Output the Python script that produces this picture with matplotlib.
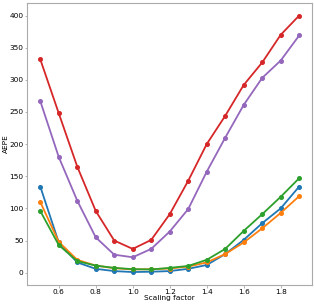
import matplotlib
matplotlib.use("Agg")
import matplotlib.pyplot as plt

scale = [0.5, 0.6, 0.7, 0.8, 0.9, 1.0, 1.1, 1.2, 1.3, 1.4, 1.5, 1.6, 1.7, 1.8, 1.9]
blue = [134, 47, 16, 6, 2.5, 1, 1.5, 2.5, 6, 12, 29, 51, 77, 100, 134]
orange = [110, 48, 20, 11, 7, 5, 5.5, 6.5, 9.5, 16, 29, 47, 69, 93, 119]
green = [96, 43, 18, 11, 7.5, 5.5, 5, 7.5, 10.5, 20, 37, 65, 91, 118, 147]
red = [332, 248, 165, 96, 50, 37, 51, 91, 143, 200, 244, 292, 327, 370, 400]
purple = [267, 180, 112, 55, 28, 24, 37, 64, 99, 157, 210, 261, 303, 330, 369]

series = [blue, orange, green, red, purple]
colors = ["#1f77b4", "#ff7f0e", "#2ca02c", "#d62728", "#9467bd"]

fig = plt.figure(figsize=(3.14, 3.05), dpi=100)
ax = fig.add_axes([0.087, 0.066, 0.907, 0.925])
for s, c in zip(series, colors):
    ax.plot(scale, s, color=c, marker="o", markersize=2.6, linewidth=1.3)

ax.set_xticks([0.6, 0.8, 1.0, 1.2, 1.4, 1.6, 1.8])
ax.set_yticks([0, 50, 100, 150, 200, 250, 300, 350, 400])
ax.set_xlabel("Scaling factor", fontsize=5.3, labelpad=0.3)
ax.set_ylabel("AEPE", fontsize=5.3, labelpad=0.5)
ax.tick_params(labelsize=5.3, length=1.8, width=0.5, color="#999999", pad=1.0)
for sp in ax.spines.values():
    sp.set_color("#aaaaaa")
    sp.set_linewidth(0.8)

fig.savefig("out.png", dpi=100)
